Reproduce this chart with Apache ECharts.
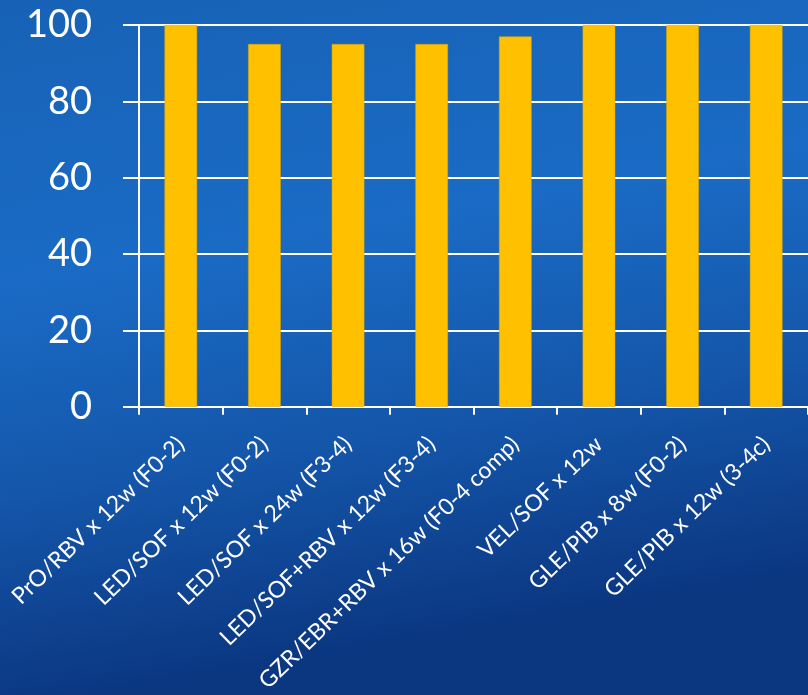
<!DOCTYPE html>
<html>
<head>
<meta charset="utf-8">
<script src="https://cdn.jsdelivr.net/npm/echarts@6/dist/echarts.min.js"></script>
<style>
html,body{margin:0;padding:0;}
#chart{width:808px;height:695px;}
</style>
</head>
<body>
<div id="chart"></div>
<script>
var categories = [
  "PrO/RBV x 12w (F0-2)",
  "LED/SOF x 12w (F0-2)",
  "LED/SOF x 24w (F3-4)",
  "LED/SOF+RBV x 12w (F3-4)",
  "GZR/EBR+RBV x 16w (F0-4 comp)",
  "VEL/SOF x 12w",
  "GLE/PIB x 8w (F0-2)",
  "GLE/PIB x 12w (3-4c)"
];
var values = [100, 95, 95, 95, 97, 100, 100, 100];
var yTicks = [0, 20, 40, 60, 80, 100];

var chart = echarts.init(document.getElementById('chart'));
chart.setOption({
  animation: false,
  backgroundColor: {
    type: 'linear', x: 0, y: 0, x2: 0.15, y2: 1,
    colorStops: [
      {offset: 0, color: '#1762b6'},
      {offset: 0.4, color: '#1a6bc5'},
      {offset: 0.7, color: '#1456aa'},
      {offset: 1, color: '#0b3680'}
    ]
  },
  grid: {left: 139, top: 25, width: 676, height: 382, containLabel: false},
  xAxis: {
    type: 'category',
    data: categories,
    axisLine: {lineStyle: {color: '#ffffff', width: 2}},
    axisTick: {show: true, length: 8, lineStyle: {color: '#ffffff', width: 2}, alignWithLabel: false},
    axisLabel: {
      rotate: 44, interval: 0, color: '#ffffff', fontFamily: 'Lato', fontSize: 23, margin: 34
    }
  },
  yAxis: {
    type: 'value',
    min: yTicks[0], max: yTicks[yTicks.length - 1], interval: 20,
    axisLine: {show: true, lineStyle: {color: '#ffffff', width: 2}},
    axisTick: {show: true, length: 16, lineStyle: {color: '#ffffff', width: 2}},
    splitLine: {lineStyle: {color: '#ffffff', width: 2}},
    axisLabel: {color: '#ffffff', fontFamily: 'Lato', fontSize: 38, margin: 47}
  },
  series: [{
    type: 'bar',
    data: values,
    barWidth: '39%',
    itemStyle: {color: '#ffc000', borderColor: '#d9a400', borderWidth: 0.5}
  }]
});
</script>
</body>
</html>
